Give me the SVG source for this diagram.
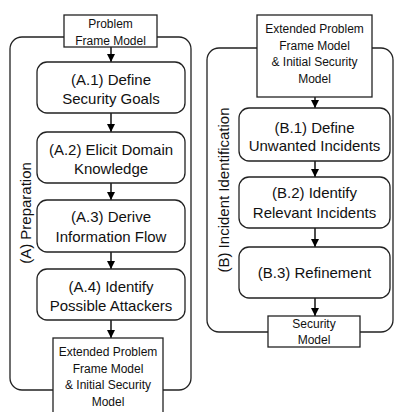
<svg xmlns="http://www.w3.org/2000/svg" width="396" height="412" viewBox="0 0 396 412">
<defs>
<marker id="ah" markerWidth="8" markerHeight="8" refX="8" refY="4" orient="auto" markerUnits="userSpaceOnUse">
<path d="M0,0 L8,4 L0,8 Z" fill="#000"/>
</marker>
<style>
.panel{fill:#fff;stroke:#222;stroke-width:1.3}
.step{fill:#fff;stroke:#222;stroke-width:1.3}
.doc{fill:#fff;stroke:#222;stroke-width:1.3}
.t{font-family:"Liberation Sans",Arial,sans-serif;font-size:15px;fill:#111;text-anchor:middle}
.s{font-family:"Liberation Sans",Arial,sans-serif;font-size:12px;fill:#111;text-anchor:middle}
.lab{font-family:"Liberation Sans",Arial,sans-serif;font-size:15px;fill:#111;text-anchor:middle;dominant-baseline:central}
.c{stroke:#000;stroke-width:1.4;fill:none;marker-end:url(#ah)}
</style>
</defs>
<g id="panelA">
<rect class="panel" x="10" y="37" width="181" height="353" rx="12"/>
<text class="lab" transform="translate(25,213) rotate(-90)">(A) Preparation</text>
</g>
<g id="panelB">
<rect class="panel" x="207" y="48" width="186" height="284" rx="12"/>
<text class="lab" transform="translate(223,190) rotate(-90)">(B) Incident Identification</text>
</g>
<g id="connectors">
<line class="c" x1="111" y1="47" x2="111" y2="62"/>
<line class="c" x1="111" y1="113" x2="111" y2="132"/>
<line class="c" x1="111" y1="183" x2="111" y2="200"/>
<line class="c" x1="111" y1="252" x2="111" y2="269"/>
<line class="c" x1="111" y1="320" x2="111" y2="338"/>
<line class="c" x1="315" y1="97" x2="315" y2="108"/>
<line class="c" x1="315" y1="161" x2="315" y2="177"/>
<line class="c" x1="315" y1="228" x2="315" y2="247"/>
<line class="c" x1="315" y1="298" x2="315" y2="316"/>
</g>
<g id="problemFrameModel">
<rect class="doc" x="64" y="15" width="93" height="32"/>
<text class="s" x="110.5" y="28">Problem</text>
<text class="s" x="110.5" y="45">Frame Model</text>
</g>
<g id="A1">
<rect class="step" x="37" y="62" width="148" height="51" rx="10"/>
<text class="t" x="111" y="85">(A.1) Define</text>
<text class="t" x="111" y="104">Security Goals</text>
</g>
<g id="A2">
<rect class="step" x="37" y="132" width="148" height="51" rx="10"/>
<text class="t" x="111" y="155">(A.2) Elicit Domain</text>
<text class="t" x="111" y="174">Knowledge</text>
</g>
<g id="A3">
<rect class="step" x="37" y="200" width="148" height="52" rx="10"/>
<text class="t" x="111" y="222">(A.3) Derive</text>
<text class="t" x="111" y="242">Information Flow</text>
</g>
<g id="A4">
<rect class="step" x="37" y="269" width="148" height="51" rx="10"/>
<text class="t" x="111" y="292">(A.4) Identify</text>
<text class="t" x="111" y="311">Possible Attackers</text>
</g>
<g id="extendedModelA">
<rect class="doc" x="53" y="338" width="110" height="82"/>
<text class="s" x="108" y="356">Extended Problem</text>
<text class="s" x="108" y="373">Frame Model</text>
<text class="s" x="108" y="389">&amp; Initial Security</text>
<text class="s" x="108" y="406">Model</text>
</g>
<g id="extendedModelB">
<rect class="doc" x="257" y="15" width="115" height="82"/>
<text class="s" x="314.5" y="33">Extended Problem</text>
<text class="s" x="314.5" y="50">Frame Model</text>
<text class="s" x="314.5" y="66">&amp; Initial Security</text>
<text class="s" x="314.5" y="83">Model</text>
</g>
<g id="B1">
<rect class="step" x="239" y="108" width="151" height="53" rx="10"/>
<text class="t" x="314.5" y="132.5">(B.1) Define</text>
<text class="t" x="314.5" y="151">Unwanted Incidents</text>
</g>
<g id="B2">
<rect class="step" x="239" y="177" width="151" height="51" rx="10"/>
<text class="t" x="314.5" y="198">(B.2) Identify</text>
<text class="t" x="314.5" y="218">Relevant Incidents</text>
</g>
<g id="B3">
<rect class="step" x="239" y="247" width="151" height="51" rx="10"/>
<text class="t" x="314.5" y="278">(B.3) Refinement</text>
</g>
<g id="securityModel">
<rect class="doc" x="268" y="316" width="92" height="31"/>
<text class="s" x="314" y="328">Security</text>
<text class="s" x="314" y="344">Model</text>
</g>
</svg>
